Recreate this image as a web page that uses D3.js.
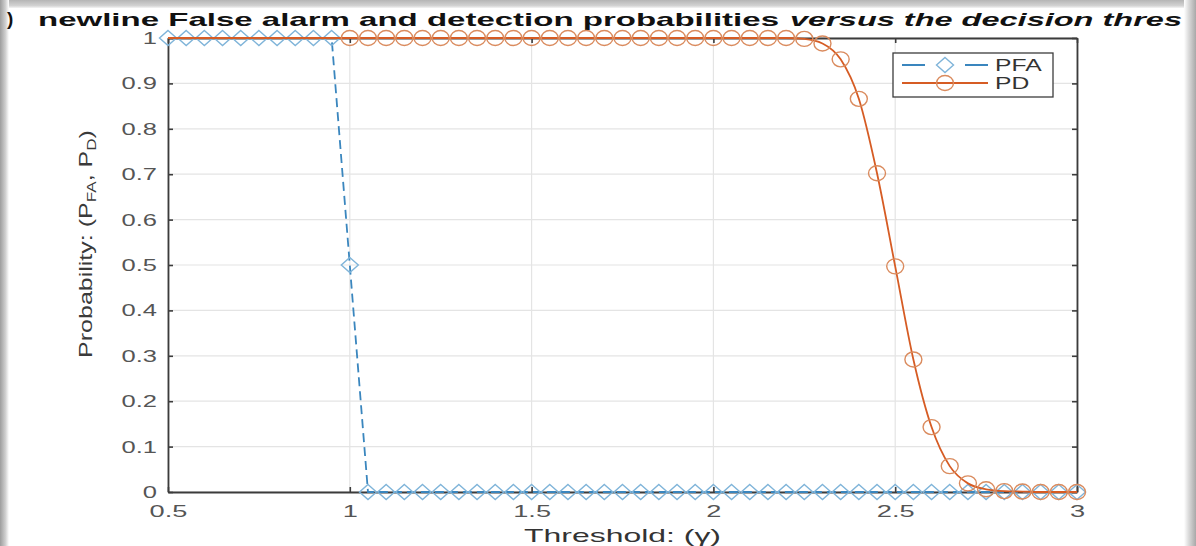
<!DOCTYPE html>
<html>
<head>
<meta charset="utf-8">
<script src="https://cdn.jsdelivr.net/npm/d3@7/dist/d3.min.js"></script>
<style>
  html, body { margin: 0; padding: 0; background: #fff; }
  svg { display: block; }
  text { font-family: "Liberation Sans", Arial, Helvetica, sans-serif; }
</style>
</head>
<body>
<svg id="chart" width="1196" height="546"></svg>
<script>
// Decision thresholds (γ) at which both probabilities were evaluated
const thresholds = [
  0.50, 0.55, 0.60, 0.65, 0.70, 0.75, 0.80, 0.85, 0.90, 0.95,
  1.00, 1.05, 1.10, 1.15, 1.20, 1.25, 1.30, 1.35, 1.40, 1.45,
  1.50, 1.55, 1.60, 1.65, 1.70, 1.75, 1.80, 1.85, 1.90, 1.95,
  2.00, 2.05, 2.10, 2.15, 2.20, 2.25, 2.30, 2.35, 2.40, 2.45,
  2.50, 2.55, 2.60, 2.65, 2.70, 2.75, 2.80, 2.85, 2.90, 2.95,
  3.00
];

// Probability of false alarm
const pfa = [
  1, 1, 1, 1, 1, 1, 1, 1, 1, 1,
  0.5, 0, 0, 0, 0, 0, 0, 0, 0, 0,
  0, 0, 0, 0, 0, 0, 0, 0, 0, 0,
  0, 0, 0, 0, 0, 0, 0, 0, 0, 0,
  0, 0, 0, 0, 0, 0, 0, 0, 0, 0,
  0
];

// Probability of detection
const pd = [
  1, 1, 1, 1, 1, 1, 1, 1, 1, 1,
  1, 1, 1, 1, 1, 1, 1, 1, 1, 1,
  1, 1, 1, 1, 1, 1, 1, 1, 1, 1,
  1, 1, 1, 1, 1, 0.998, 0.988, 0.953, 0.866, 0.702,
  0.497, 0.292, 0.143, 0.057, 0.019, 0.006, 0.002, 0.001, 0, 0,
  0
];

// PD markers are shown from this threshold onward
const pdMarkerFrom = 1.0;

const xTicks = [0.5, 1, 1.5, 2, 2.5, 3];
const xTickLabels = ["0.5", "1", "1.5", "2", "2.5", "3"];
const yTicks = [0, 0.1, 0.2, 0.3, 0.4, 0.5, 0.6, 0.7, 0.8, 0.9, 1];
const yTickLabels = ["0", "0.1", "0.2", "0.3", "0.4", "0.5", "0.6", "0.7", "0.8", "0.9", "1"];

const seriesNames = ["PFA", "PD"];

const W = 1196, H = 546;
const plot = { left: 168, right: 1077, top: 38, bottom: 492 };

const svg = d3.select("#chart");

// ---------- page frame shadow ----------
const defs = svg.append("defs");
function grad(id, x1, y1, x2, y2, stops) {
  const g = defs.append("linearGradient").attr("id", id)
    .attr("x1", x1).attr("y1", y1).attr("x2", x2).attr("y2", y2);
  stops.forEach(s => g.append("stop").attr("offset", s[0]).attr("stop-color", s[1]));
}
grad("shLeft", 0, 0, 1, 0, [[0, "#9d9d9d"], [0.6, "#cfcfcf"], [1, "#ffffff"]]);
grad("shTop", 0, 0, 0, 1, [[0, "#b5b5b5"], [0.7, "#d2d2d2"], [1, "#f4f4f4"]]);
grad("shRight", 0, 0, 1, 0, [[0, "#ffffff"], [0.4, "#dadada"], [1, "#a8a8a8"]]);

svg.append("rect").attr("width", W).attr("height", H).attr("fill", "#fff");
svg.append("rect").attr("x", 0).attr("y", 0).attr("width", W).attr("height", 8).attr("fill", "url(#shTop)");
svg.append("rect").attr("x", 0).attr("y", 0).attr("width", 9).attr("height", H).attr("fill", "url(#shLeft)");
svg.append("rect").attr("x", 1184).attr("y", 0).attr("width", 12).attr("height", H).attr("fill", "url(#shRight)");

// stretch helper: widens glyphs along the baseline
function stretch(sel, k) {
  sel.each(function () {
    const w = this.getComputedTextLength();
    if (w > 0) d3.select(this).attr("textLength", w * k).attr("lengthAdjust", "spacingAndGlyphs");
  });
}

// ---------- title ----------
const titleG = svg.append("g").attr("fill", "#111").attr("font-weight", "bold").attr("font-size", 19);
titleG.append("text").attr("x", 7).attr("y", 25).text(")");
titleG.append("text").attr("x", 38).attr("y", 26)
  .attr("textLength", 741).attr("lengthAdjust", "spacingAndGlyphs")
  .text("newline False alarm and detection probabilities");
titleG.append("text").attr("x", 790).attr("y", 26).attr("font-style", "italic")
  .attr("textLength", 392).attr("lengthAdjust", "spacingAndGlyphs")
  .text("versus the decision thres");

// ---------- scales ----------
const x = d3.scaleLinear().domain([0.5, 3]).range([plot.left, plot.right]);
const y = d3.scaleLinear().domain([0, 1]).range([plot.bottom, plot.top]);

// ---------- grid ----------
const grid = svg.append("g").attr("stroke", "#e4e4e4").attr("stroke-width", 1.2);
grid.selectAll("line.gx").data(xTicks).join("line").attr("class", "gx")
  .attr("x1", d => x(d)).attr("x2", d => x(d)).attr("y1", plot.top).attr("y2", plot.bottom);
grid.selectAll("line.gy").data(yTicks).join("line").attr("class", "gy")
  .attr("x1", plot.left).attr("x2", plot.right).attr("y1", d => y(d)).attr("y2", d => y(d));

// ---------- axes ----------
const axisColor = "#3c3c3c";
function styleAxis(g) {
  g.select(".domain").attr("stroke", axisColor).attr("stroke-width", 1.8);
  g.selectAll(".tick line").attr("stroke", axisColor).attr("stroke-width", 1.6);
  g.selectAll(".tick text").attr("fill", "#555").attr("font-size", 17)
    .attr("font-family", "'Liberation Sans', Arial, sans-serif");
}

const xAxis = svg.append("g").attr("transform", `translate(0,${plot.bottom})`)
  .call(d3.axisBottom(x).tickValues(xTicks).tickFormat((d, i) => xTickLabels[i])
    .tickSizeInner(-5).tickSizeOuter(0).tickPadding(13));
styleAxis(xAxis);
stretch(xAxis.selectAll(".tick text"), 1.6);

const yAxis = svg.append("g").attr("transform", `translate(${plot.left},0)`)
  .call(d3.axisLeft(y).tickValues(yTicks).tickFormat((d, i) => yTickLabels[i])
    .tickSizeInner(-5).tickSizeOuter(0).tickPadding(11));
styleAxis(yAxis);
stretch(yAxis.selectAll(".tick text"), 1.5);

const topAxis = svg.append("g").attr("transform", `translate(0,${plot.top})`)
  .call(d3.axisTop(x).tickValues(xTicks).tickFormat("").tickSizeInner(-5).tickSizeOuter(0));
styleAxis(topAxis);
const rightAxis = svg.append("g").attr("transform", `translate(${plot.right},0)`)
  .call(d3.axisRight(y).tickValues(yTicks).tickFormat("").tickSizeInner(-5).tickSizeOuter(0));
styleAxis(rightAxis);

// ---------- axis labels ----------
svg.append("text")
  .attr("x", (plot.left + plot.right) / 2).attr("y", 542)
  .attr("text-anchor", "middle").attr("font-size", 19).attr("fill", "#333")
  .attr("textLength", 197).attr("lengthAdjust", "spacingAndGlyphs")
  .text("Threshold:  (γ)");

const yLab = svg.append("text")
  .attr("text-anchor", "middle").attr("font-size", 19).attr("fill", "#3a3a3a");
yLab.append("tspan").text("Probability: (P");
yLab.append("tspan").attr("font-size", 13).attr("dy", 4).text("FA");
yLab.append("tspan").attr("dy", -4).text(", P");
yLab.append("tspan").attr("font-size", 13).attr("dy", 4).text("D");
yLab.append("tspan").attr("dy", -4).text(")");
{
  const w = yLab.node().getComputedTextLength();
  yLab.attr("transform", `translate(92,244) rotate(-90) scale(${228 / w},1)`);
}

// ---------- series ----------
const pfaColor = "#3a86be", pfaMarker = "#7fb4d9";
const pdColor = "#d65c24", pdMarker = "#da8b5e";

const pts = (vals) => thresholds.map((t, i) => ({ t, v: vals[i] }));
const pfaPts = pts(pfa);
const pdPts = pts(pd);

const diamond = "M0,-7.5 L8.5,0 L0,7.5 L-8.5,0 Z";

svg.append("path").datum(pfaPts)
  .attr("fill", "none").attr("stroke", pfaColor).attr("stroke-width", 1.8)
  .attr("stroke-dasharray", "9,5")
  .attr("d", d3.line().x(d => x(d.t)).y(d => y(d.v)));

svg.append("g").selectAll("path").data(pfaPts).join("path")
  .attr("d", diamond)
  .attr("transform", d => `translate(${x(d.t)},${y(d.v)})`)
  .attr("fill", "none").attr("stroke", pfaMarker).attr("stroke-width", 1.4);

svg.append("path").datum(pdPts)
  .attr("fill", "none").attr("stroke", pdColor).attr("stroke-width", 1.8)
  .attr("d", d3.line().curve(d3.curveMonotoneX).x(d => x(d.t)).y(d => y(d.v)));

svg.append("g").selectAll("ellipse").data(pdPts.filter(d => d.t >= pdMarkerFrom)).join("ellipse")
  .attr("cx", d => x(d.t)).attr("cy", d => y(d.v))
  .attr("rx", 8.5).attr("ry", 7.5)
  .attr("fill", "none").attr("stroke", pdMarker).attr("stroke-width", 1.4);

// ---------- legend ----------
const leg = svg.append("g").attr("transform", "translate(893,53)");
leg.append("rect").attr("width", 160).attr("height", 44)
  .attr("fill", "#fff").attr("stroke", "#3c3c3c").attr("stroke-width", 1.3);
const rows = [
  { name: seriesNames[0], color: pfaColor, marker: pfaMarker, dash: "23,40", shape: "diamond" },
  { name: seriesNames[1], color: pdColor, marker: pdMarker, dash: null, shape: "circle" }
];
rows.forEach((r, i) => {
  const ry = 12 + i * 18;
  leg.append("line").attr("x1", 9).attr("x2", 95).attr("y1", ry).attr("y2", ry)
    .attr("stroke", r.color).attr("stroke-width", 1.8)
    .attr("stroke-dasharray", r.dash);
  if (r.shape === "diamond") {
    leg.append("path").attr("d", diamond).attr("transform", `translate(52,${ry})`)
      .attr("fill", "none").attr("stroke", r.marker).attr("stroke-width", 1.4);
  } else {
    leg.append("ellipse").attr("cx", 52).attr("cy", ry).attr("rx", 8.5).attr("ry", 7.5)
      .attr("fill", "none").attr("stroke", r.marker).attr("stroke-width", 1.4);
  }
  const t = leg.append("text").attr("x", 102).attr("y", ry + 6)
    .attr("font-size", 17).attr("fill", "#333").text(r.name);
  stretch(t, 1.45);
});
</script>
</body>
</html>
